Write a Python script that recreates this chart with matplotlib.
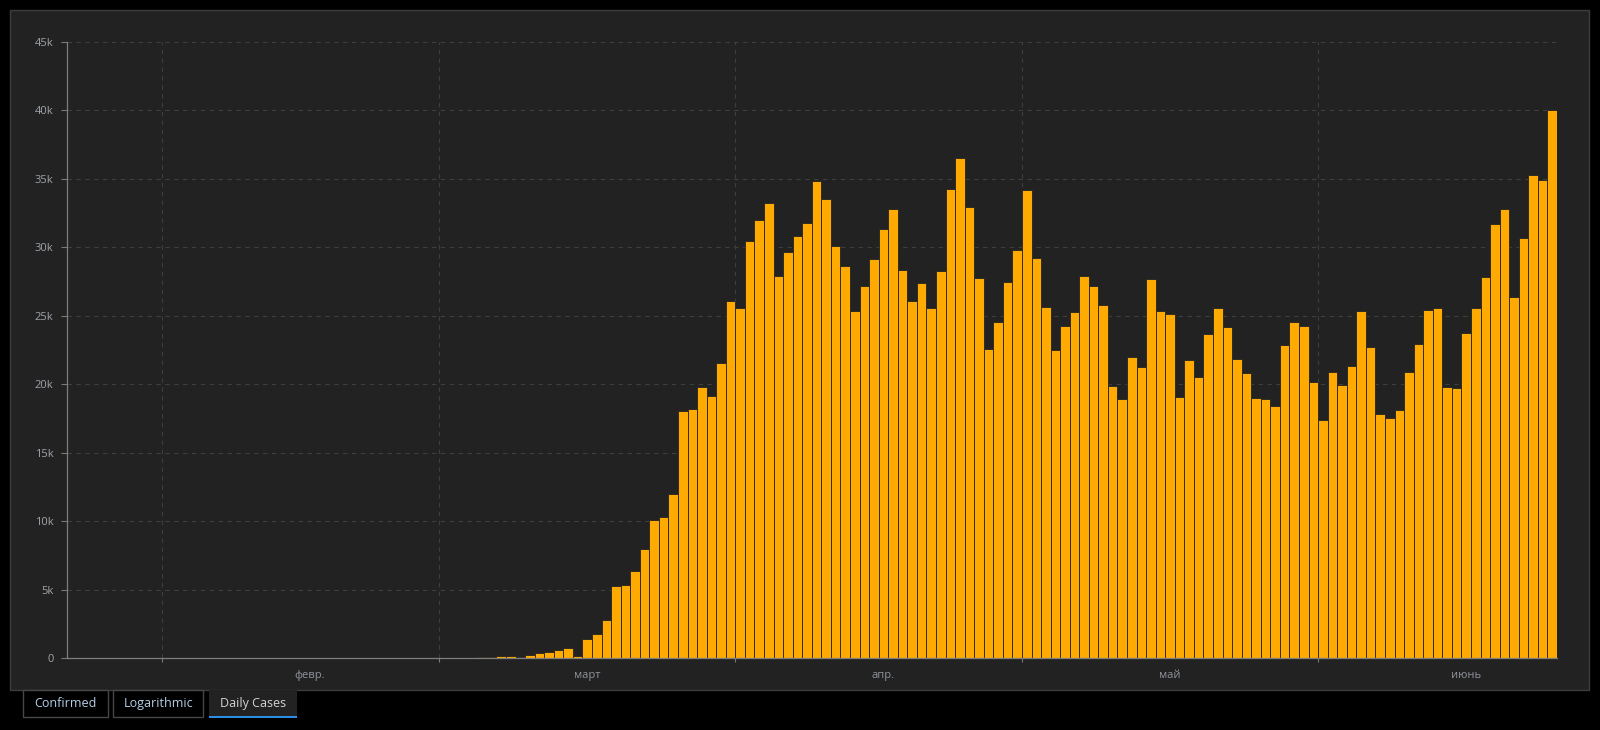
#Casos diarios (Daily Cases)

#Importar las librerías
import pandas as pd
import matplotlib.pyplot as plt
from matplotlib.patches import Rectangle

plt.rcParams['font.family'] = ['Open Sans', 'DejaVu Sans']

#Datos (casos por día, desde el 22 de enero)
start_date = '2020-01-22'
jan = [1, 0, 1, 0, 3, 0, 0, 0, 0, 2]
feb = [1, 0, 3, 0, 1, 0, 0, 0, 0, 0, 1, 0, 1, 0, 0, 0, 0, 0, 0, 0,
       0, 0, 0, 36, 0, 0, 1, 2, 8]
mar = [20, 25, 20, 30, 100, 100, 170, 170, 100, 250, 390, 460, 620, 760, 180,
       1420, 1790, 2810, 5290, 5360, 6380, 7950, 10100, 10320, 12000, 18060,
       18200, 19800, 19150, 21550, 26100]
apr = [25570, 30460, 32000, 33240, 27900, 29660, 30800, 31750, 34850, 33540,
       30100, 28640, 25360, 27180, 29150, 31340, 32800, 28350, 26090, 27400,
       25570, 28280, 34270, 36530, 32940, 27770, 22580, 24550, 27470, 29800]
may = [34200, 29220, 25640, 22500, 24260, 25280, 27900, 27180, 25800, 19870,
       18920, 21990, 21260, 27690, 25360, 25140, 19070, 21770, 20530, 23670,
       25570, 24190, 21840, 20820, 19000, 18920, 18410, 22870, 24550, 24260,
       20160]
jun = [17390, 20900, 19950, 21340, 25360, 22720, 17830, 17540, 18120, 20900,
       22940, 25430, 25570, 19800, 19730, 23740, 25570, 27840, 31700, 32800,
       26400, 30700, 35300, 34900, 40050]

daily_cases = jan + feb + mar + apr + may + jun
dates = pd.date_range(start_date, periods=len(daily_cases), freq='D')

y_ticks = [0, 5000, 10000, 15000, 20000, 25000, 30000, 35000, 40000, 45000]
y_labels = ['0', '5k', '10k', '15k', '20k', '25k', '30k', '35k', '40k', '45k']
month_starts = pd.to_datetime(['2020-02-01', '2020-03-01', '2020-04-01',
                               '2020-05-01', '2020-06-01'])
month_labels = ['февр.', 'март', 'апр.', 'май', 'июнь']
buttons = ['Confirmed', 'Logarithmic', 'Daily Cases']
active_button = 'Daily Cases'

#Figura y panel
W, H = 1600, 730
fig = plt.figure(figsize=(16, 7.3), dpi=100, facecolor='black')
fig.patches.append(Rectangle((10 / W, 1 - 690 / H), 1579 / W, 680 / H,
                             transform=fig.transFigure, facecolor='#222222',
                             edgecolor='#3c3c3c', linewidth=1, zorder=-2))

ax = fig.add_axes([66.5 / W, 1 - 658.3 / H, (1557 - 66.5) / W, (658.3 - 41.7) / H])
ax.set_zorder(1)
ax.set_facecolor('#222222')

#Barras
ax.bar(dates, daily_cases, width=1.0, align='edge', color='#FFAA00',
       edgecolor='#222222', linewidth=0.6)

ax.set_xlim(dates[0], dates[-1] + pd.Timedelta(days=1))
ax.set_ylim(0, 45000)

#Ejes
ax.set_yticks(y_ticks)
ax.set_yticklabels(y_labels)
ax.set_xticks(month_starts)
ax.set_xticklabels([])
ax.set_xticks(month_starts + pd.Timedelta(hours=15.5 * 24), minor=True)
ax.set_xticklabels(month_labels, minor=True)

ax.tick_params(axis='y', colors='#7a7a7a', labelcolor='#9fa4ab', length=4.3,
               width=0.8, pad=5, labelsize=8)
ax.tick_params(axis='x', which='major', colors='#7a7a7a', length=3, width=0.8)
ax.tick_params(axis='x', which='minor', length=0, pad=8.5, labelcolor='#8f939a',
               labelsize=8)

for s in ['top', 'right']:
    ax.spines[s].set_visible(False)
for s in ['left', 'bottom']:
    ax.spines[s].set_color('#7f7f7f')
    ax.spines[s].set_linewidth(0.9)

ax.set_axisbelow(True)
ax.grid(True, which='major', color='#3e3e3e', linestyle=(0, (4, 4)), linewidth=0.8)

#Botones
button_x = [(23.3, 107.7), (113.3, 203.3), (209.3, 297.3)]
for name, (x0, x1) in zip(buttons, button_x):
    on = name == active_button
    fig.patches.append(Rectangle((x0 / W, 1 - 716.7 / H), (x1 - x0) / W, 27 / H,
                                 transform=fig.transFigure,
                                 facecolor='#222222' if on else 'black',
                                 edgecolor='none' if on else '#474747',
                                 linewidth=1, zorder=2))
    if on:
        fig.patches.append(Rectangle((x0 / W, 1 - 718 / H), (x1 - x0) / W, 2.2 / H,
                                     transform=fig.transFigure, facecolor='#2a8de6',
                                     edgecolor='none', zorder=3))
    fig.text((x0 + x1) / 2 / W, 1 - 703.5 / H, name, ha='center', va='center',
             fontsize=9, color='#d4d4d4' if on else '#b6cfe6', zorder=4)

plt.savefig('out.png', dpi=100, facecolor='black')
